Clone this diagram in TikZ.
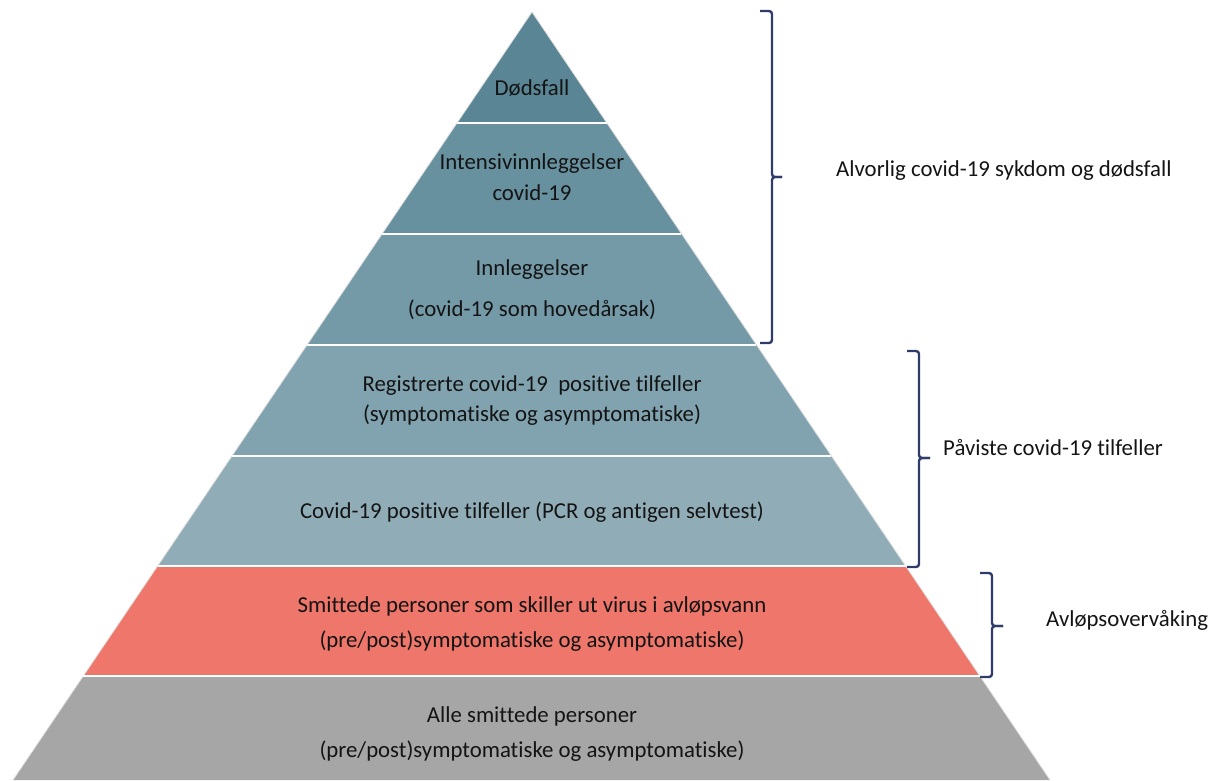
\documentclass[tikz,border=0pt]{standalone}
\usepackage{fontspec}
\setmainfont{Carlito}[Ligatures={NoCommon}]
\definecolor{bandA}{HTML}{5A8594}
\definecolor{bandB}{HTML}{6891A0}
\definecolor{bandC}{HTML}{749AA8}
\definecolor{bandD}{HTML}{81A3AF}
\definecolor{bandE}{HTML}{90ADB7}
\definecolor{bandF}{HTML}{EE766A}
\definecolor{bandG}{HTML}{A6A6A6}
\definecolor{brace}{HTML}{2F3C6A}
\definecolor{txt}{HTML}{141414}
\begin{document}
\begin{tikzpicture}[x=1pt,y=-1pt,
  lbl/.style={text=txt,font=\fontsize{22.8}{26}\selectfont,inner sep=0pt,align=center},
  side/.style={text=txt,font=\fontsize{22.8}{26}\selectfont,inner sep=0pt,anchor=west},
  sep/.style={white,line width=2pt},
  bracket/.style={brace,line width=2.4pt,rounded corners=3pt}]
\useasboundingbox (0,0) rectangle (1220,780);
% geometry: apex (532,12); left edge to (13,780), right edge to (1050,780)
\def\L#1{({532-0.67578*(#1-12)},#1)}
\def\R#1{({532+0.67448*(#1-12)},#1)}
\fill[bandA] (532,12) -- \R{122.5} -- \L{122.5} -- cycle;
\fill[bandB] \L{122.5} -- \R{122.5} -- \R{233.5} -- \L{233.5} -- cycle;
\fill[bandC] \L{233.5} -- \R{233.5} -- \R{344.5} -- \L{344.5} -- cycle;
\fill[bandD] \L{344.5} -- \R{344.5} -- \R{455.5} -- \L{455.5} -- cycle;
\fill[bandE] \L{455.5} -- \R{455.5} -- \R{566} -- \L{566} -- cycle;
\fill[bandF] \L{566} -- \R{566} -- \R{676} -- \L{676} -- cycle;
\fill[bandG] \L{676} -- \R{676} -- \R{780} -- \L{780} -- cycle;
\draw[white!88!black,line width=0.8pt] \L{780} -- (532,12) -- \R{780};
\foreach \y in {122.5,233.5,344.5,455.5,566,676}
  \draw[sep] \L{\y} -- \R{\y};
% texts
\node[lbl] (t1) at (532,88) {Dødsfall};
\node[lbl] (t2a) at (532,164) {Intensivinnleggelser};
\node[lbl] (t2b) at (532,193) {covid-19};
\node[lbl] (t3a) at (532,270) {Innleggelser};
\node[lbl] (t3b) at (532,310) {(covid-19 som hovedårsak)};
\node[lbl] (t4a) at (532,386) {Registrerte covid-19\ \ positive tilfeller};
\node[lbl] (t4b) at (532,415) {(symptomatiske og asymptomatiske)};
\node[lbl] (t5) at (532,512) {Covid-19 positive tilfeller (PCR og antigen selvtest)};
\node[lbl] (t6a) at (532,606) {Smittede personer som skiller ut virus i avløpsvann};
\node[lbl] (t6b) at (532,641) {(pre/post)symptomatiske og asymptomatiske)};
\node[lbl] (t7a) at (532,716) {Alle smittede personer};
\node[lbl] (t7b) at (532,751) {(pre/post)symptomatiske og asymptomatiske)};
% brackets
\coordinate (b1t) at (760,11); \coordinate (b1m) at (782,177); \coordinate (b1b) at (760,343);
\draw[bracket] (b1t) -- (772,11) -- (772,177) -- (b1m);
\draw[bracket] (b1m) -- (772,177) -- (772,343) -- (b1b);
\coordinate (b2t) at (907,351); \coordinate (b2m) at (930,458); \coordinate (b2b) at (907,567);
\draw[bracket] (b2t) -- (919,351) -- (919,458) -- (b2m);
\draw[bracket] (b2m) -- (919,458) -- (919,567) -- (b2b);
\coordinate (b3t) at (980,573); \coordinate (b3m) at (1003,626); \coordinate (b3b) at (980,677);
\draw[bracket] (b3t) -- (992,573) -- (992,626) -- (b3m);
\draw[bracket] (b3m) -- (992,626) -- (992,677) -- (b3b);
\node[side] (s1) at (836,171) {Alvorlig covid-19 sykdom og dødsfall};
\node[side] (s2) at (943,447) {Påviste covid-19 tilfeller};
\node[side] (s3) at (1046,620) {Avløpsovervåking};
\end{tikzpicture}
\end{document}
